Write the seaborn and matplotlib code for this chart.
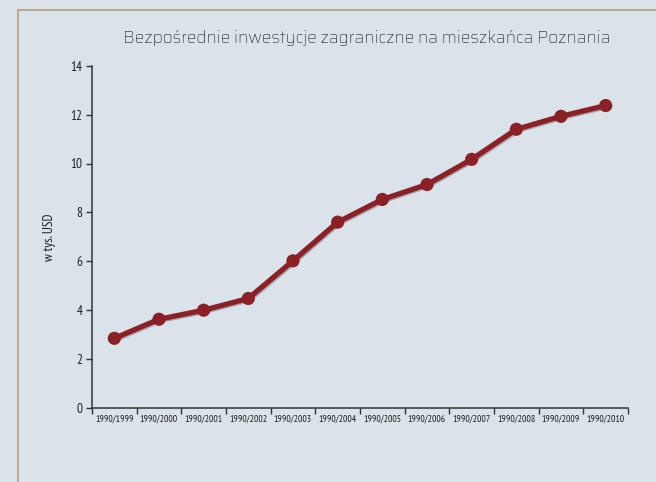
import matplotlib
matplotlib.use("Agg")
import matplotlib.pyplot as plt
import matplotlib.patheffects as pe
from matplotlib.patches import Rectangle
import seaborn as sns
import pandas as pd
import numpy as np

categories = ["1990/1999", "1990/2000", "1990/2001", "1990/2002", "1990/2003", "1990/2004",
              "1990/2005", "1990/2006", "1990/2007", "1990/2008", "1990/2009", "1990/2010"]
values = [2.85, 3.63, 4.0, 4.48, 6.02, 7.6, 8.53, 9.14, 10.17, 11.4, 11.93, 12.37]
yticks = [0, 2, 4, 6, 8, 10, 12, 14]
title = "Bezpośrednie inwestycje zagraniczne na mieszkańca Poznania"
ylabel = "w tys. USD"

bg = "#d9e3e9"
line_color = "#8b2127"
narrow = ["PT Sans Narrow", "Roboto Condensed", "DejaVu Sans"]

sns.set_theme(style="white")
plt.rcParams["font.family"] = narrow

df = pd.DataFrame({"cat": categories, "val": values})
df["pos"] = np.arange(len(categories))

fig = plt.figure(figsize=(6.56, 4.82), dpi=100)
fig.patch.set_facecolor(bg)
ax = fig.add_axes([92 / 656, 1 - 408 / 482, (628 - 92) / 656, (408 - 65.7) / 482])
ax.set_facecolor(bg)

# frame border
fig.patches.append(Rectangle((18 / 656, -0.1), 1.2, 1 - 10 / 482 + 0.1,
                             transform=fig.transFigure, fill=False,
                             edgecolor="#b59e82", linewidth=1.2))

shadow = [pe.SimpleLineShadow(offset=(0.8, -0.8), shadow_color="#2a1a1a", alpha=0.3), pe.Normal()]
sns.lineplot(data=df, x="pos", y="val", ax=ax, color=line_color, linewidth=3.8,
             marker="o", markersize=9.5, markeredgewidth=0, markerfacecolor=line_color,
             path_effects=shadow, legend=False)

ax.set_xlim(-0.5, len(categories) - 0.5)
ax.set_ylim(0, 14)
ax.set_yticks(yticks)
ax.set_yticklabels([str(t) for t in yticks], fontsize=9.5, color="#1e1e1e")
ax.set_xticks(df["pos"])
ax.set_xticklabels(categories, fontsize=7, color="#1e1e1e")
ax.set_xticks(np.arange(-0.5, len(categories), 1.0), minor=True)
ax.tick_params(axis="x", which="major", length=0, pad=5)
ax.tick_params(axis="x", which="minor", length=4, width=1, color="#333333", direction="out", bottom=True)
ax.tick_params(axis="y", which="major", length=4, width=1, color="#333333", direction="out", left=True, pad=3)
ax.set_xlabel("")
ax.set_ylabel("")
fig.text(50 / 656, 1 - 237 / 482, ylabel, rotation=90, ha="center", va="center",
         fontsize=9.5, color="#1e1e1e")

for s in ["top", "right"]:
    ax.spines[s].set_visible(False)
for s in ["left", "bottom"]:
    ax.spines[s].set_color("#333333")
    ax.spines[s].set_linewidth(1.1)

fig.text(367 / 656, 1 - 38 / 482, title, ha="center", va="center", fontsize=12.2,
         color="#1e1e1e", family=["Saira", "Lato", "DejaVu Sans"], fontweight="normal")

fig.savefig("out.png", dpi=100, facecolor=bg)
